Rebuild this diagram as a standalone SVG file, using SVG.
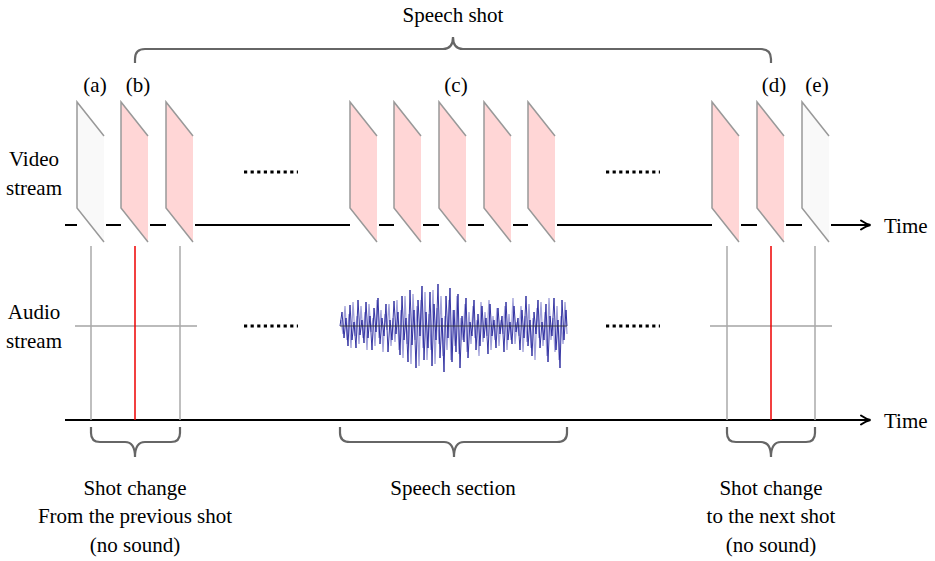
<svg xmlns="http://www.w3.org/2000/svg" width="935" height="561" viewBox="0 0 935 561">
<style>
text{font-family:'Liberation Serif','Times New Roman','DejaVu Serif',serif;font-size:21px;fill:#000}
.mid{text-anchor:middle}
.axis{stroke:#000;stroke-width:2.2;fill:none}
.vg{stroke:#aaa;stroke-width:1.5}
.vr{stroke:#e00;stroke-width:1.5}
.hg{stroke:#bbb;stroke-width:2}
.brace{stroke:#666;stroke-width:2.2;fill:none}
.dots{stroke:#000;stroke-width:3.2;stroke-dasharray:3.2 3.4}
.pink{fill:#ffd6d6}
.white{fill:#f9f9f9}
.edge{stroke:#999;stroke-width:1.5;fill:none}
</style>
<defs>
<marker id="arr" viewBox="0 0 12 12" refX="10" refY="6" markerWidth="12" markerHeight="12" markerUnits="userSpaceOnUse" orient="auto">
<path d="M1,1.5 Q6,5 10.5,6 Q6,7 1,10.5" fill="none" stroke="#000" stroke-width="2" stroke-linecap="round"/>
</marker>
<path id="fshape" d="M0,0 L27,34 L27,140 L0,106 Z"/>
<path id="fedge" d="M27,34 L0,0 L0,106 L27,140"/>
</defs>

<g id="connectors">
<path class="axis" d="M65,225 H77 M106,225 H121 M150,225 H166 M195,225 H350 M379,225 H394 M423,225 H439 M468,225 H484 M513,225 H528 M557,225 H712 M741,225 H757 M786,225 H802"/>
<line class="axis" x1="831" y1="225" x2="870" y2="225" marker-end="url(#arr)"/>
<line class="axis" x1="65" y1="420" x2="870" y2="420" marker-end="url(#arr)"/>
<line class="hg" x1="75" y1="326" x2="197" y2="326"/>
<line class="hg" x1="710" y1="326" x2="832" y2="326"/>
<line class="vg" x1="91" y1="246" x2="91" y2="420"/>
<line class="vr" x1="135" y1="246" x2="135" y2="420"/>
<line class="vg" x1="180" y1="246" x2="180" y2="420"/>
<line class="vg" x1="727" y1="246" x2="727" y2="420"/>
<line class="vr" x1="771" y1="246" x2="771" y2="420"/>
<line class="vg" x1="815" y1="246" x2="815" y2="420"/>
<line class="dots" x1="244" y1="172" x2="298" y2="172"/>
<line class="dots" x1="606" y1="172" x2="660" y2="172"/>
<line class="dots" x1="244" y1="326" x2="298" y2="326"/>
<line class="dots" x1="606" y1="326" x2="660" y2="326"/>
</g>

<g id="frame-a"><use href="#fshape" class="white" x="77" y="102"/><use href="#fedge" class="edge" x="77" y="102"/></g>
<g id="frame-b"><use href="#fshape" class="pink" x="121" y="102"/><use href="#fedge" class="edge" x="121" y="102"/></g>
<g id="frame-b2"><use href="#fshape" class="pink" x="166" y="102"/><use href="#fedge" class="edge" x="166" y="102"/></g>
<g id="frame-c1"><use href="#fshape" class="pink" x="350" y="102"/><use href="#fedge" class="edge" x="350" y="102"/></g>
<g id="frame-c2"><use href="#fshape" class="pink" x="394" y="102"/><use href="#fedge" class="edge" x="394" y="102"/></g>
<g id="frame-c3"><use href="#fshape" class="pink" x="439" y="102"/><use href="#fedge" class="edge" x="439" y="102"/></g>
<g id="frame-c4"><use href="#fshape" class="pink" x="484" y="102"/><use href="#fedge" class="edge" x="484" y="102"/></g>
<g id="frame-c5"><use href="#fshape" class="pink" x="528" y="102"/><use href="#fedge" class="edge" x="528" y="102"/></g>
<g id="frame-d0"><use href="#fshape" class="pink" x="712" y="102"/><use href="#fedge" class="edge" x="712" y="102"/></g>
<g id="frame-d"><use href="#fshape" class="pink" x="757" y="102"/><use href="#fedge" class="edge" x="757" y="102"/></g>
<g id="frame-e"><use href="#fshape" class="white" x="802" y="102"/><use href="#fedge" class="edge" x="802" y="102"/></g>

<g id="waveform">
<polyline fill="none" stroke="#8a8ad0" stroke-width="1.3" stroke-opacity="0.8" points="341,320 343,334 345,306 347,340 349,314 351,348 353,302 355,336 357,316 359,344 361,306 363,338 365,312 367,350 369,304 371,332 373,318 375,346 377,300 379,338 381,310 383,352 385,314 387,330 389,304 391,346 393,318 395,342 397,300 399,350 401,310 403,358 405,296 407,344 409,314 411,364 413,294 415,340 417,306 419,366 421,300 423,348 425,292 427,360 429,314 431,350 433,290 435,364 437,308 439,344 441,296 443,356 445,316 447,350 449,300 451,360 453,310 455,346 457,296 459,354 461,318 463,340 465,304 467,352 469,312 471,344 473,306 475,338 477,320 479,356 481,302 483,342 485,312 487,336 489,300 491,350 493,316 495,340 497,308 499,346 501,320 503,334 505,306 507,350 509,314 511,340 513,298 515,344 517,322 519,336 521,306 523,352 525,316 527,342 529,304 531,348 533,318 535,360 537,308 539,338 541,302 543,346 545,312 547,356 549,298 551,340 553,318 555,352 557,306 559,360 561,316 563,344 565,302 567,334"/>
<polyline fill="none" stroke="#22229a" stroke-width="0.9" points="340,326 342,312 344,338 346,318 348,346 350,305 352,340 354,322 356,348 358,300 360,335 362,320 364,343 366,302 368,338 370,316 372,350 374,308 376,332 378,298 380,344 382,318 384,336 386,304 388,352 390,320 392,340 394,301 396,334 398,312 400,355 402,296 404,340 406,318 408,362 410,290 412,345 414,310 416,368 418,300 420,336 422,286 424,360 426,312 428,348 430,292 432,366 434,304 436,340 438,284 440,358 442,318 444,372 446,296 448,338 450,288 452,362 454,310 456,352 458,294 460,368 462,316 464,342 466,298 468,358 470,322 472,336 474,300 476,350 478,314 480,346 482,306 484,338 486,318 488,354 490,304 492,336 494,320 496,348 498,308 500,334 502,316 504,352 506,302 508,340 510,322 512,344 514,306 516,332 518,318 520,350 522,310 524,338 526,296 528,346 530,320 532,356 534,312 536,334 538,300 540,348 542,322 544,340 546,304 548,362 550,316 552,336 554,298 556,350 558,320 560,368 562,300 564,340 566,310 567,326"/>
<line x1="340" y1="326" x2="567" y2="326" stroke="#333" stroke-width="0.9"/>
</g>

<g id="braces">
<path class="brace" d="M135,63 V59 Q135,49 145,49 H443 Q453,49 453,37 Q453,49 463,49 H761 Q771,49 771,59 V63"/>
<path class="brace" d="M91,427 V433 Q91,442 100,442 H125 Q135,442 135,457 Q135,442 145,442 H171 Q180,442 180,433 V427"/>
<path class="brace" d="M340,427 V433 Q340,442 350,442 H444 Q454,442 454,457 Q454,442 464,442 H557 Q567,442 567,433 V427"/>
<path class="brace" d="M727,427 V433 Q727,442 736,442 H761 Q771,442 771,457 Q771,442 781,442 H806 Q815,442 815,433 V427"/>
</g>

<g id="labels" font-family="'Liberation Serif','Times New Roman','DejaVu Serif',serif">
<text class="mid" x="453" y="22">Speech shot</text>
<text class="mid" x="95" y="92">(a)</text>
<text class="mid" x="138" y="92">(b)</text>
<text class="mid" x="456" y="92">(c)</text>
<text class="mid" x="774" y="92">(d)</text>
<text class="mid" x="817" y="92">(e)</text>
<text class="mid" x="34" y="166">Video</text>
<text class="mid" x="34" y="195">stream</text>
<text class="mid" x="34" y="319">Audio</text>
<text class="mid" x="34" y="348">stream</text>
<text x="884" y="233">Time</text>
<text x="884" y="428">Time</text>
<text class="mid" x="135" y="495">Shot change</text>
<text class="mid" x="135" y="523">From the previous shot</text>
<text class="mid" x="135" y="552">(no sound)</text>
<text class="mid" x="453" y="495">Speech section</text>
<text class="mid" x="771" y="495">Shot change</text>
<text class="mid" x="771" y="523">to the next shot</text>
<text class="mid" x="771" y="552">(no sound)</text>
</g>
</svg>
